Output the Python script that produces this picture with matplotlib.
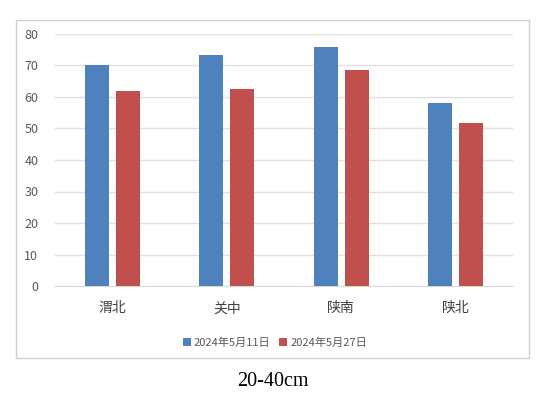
import matplotlib.pyplot as plt
import numpy as np
from matplotlib.patches import Rectangle

plt.rcParams['font.family'] = ['Noto Sans CJK SC', 'DejaVu Sans']

regions = ['渭北', '关中', '陕南', '陕北']
may11 = [70, 73.3, 75.9, 58.1]
may27 = [62, 62.5, 68.6, 51.6]
series_names = ['2024年5月11日', '2024年5月27日']

fig = plt.figure(figsize=(5.48, 3.93), dpi=100)

# outer chart frame
fig.patches.append(Rectangle((16 / 548, 1 - 358 / 393), 513 / 548, 338 / 393,
                             transform=fig.transFigure, fill=False,
                             edgecolor='#d0d0d0', linewidth=1))

ax = fig.add_axes([55 / 548, 1 - 286 / 393, 458 / 548, 252 / 393])

x = np.arange(len(regions))
w = 0.21
ax.bar(x - 0.135, may11, width=w, color='#4f81bd', label=series_names[0], zorder=3)
ax.bar(x + 0.137, may27, width=w, color='#c0504d', label=series_names[1], zorder=3)

ax.set_xlim(-0.5, len(regions) - 0.5)
ax.set_ylim(0, 80)
ax.set_yticks(range(0, 81, 10))
ax.set_xticks(x)
ax.set_xticklabels(regions, fontsize=10, color='#404040')
ax.tick_params(axis='y', labelsize=9, colors='#595959', length=0, pad=12)
ax.tick_params(axis='x', length=0, pad=11)
ax.grid(axis='y', color='#e0e0e0', linewidth=1, zorder=0)
for s in ['left', 'right', 'top']:
    ax.spines[s].set_visible(False)
ax.spines['bottom'].set_color('#d9d9d9')

fig.legend(loc='center', bbox_to_anchor=(275 / 548, 1 - 343 / 393), ncol=2,
           frameon=False, fontsize=8, handlelength=0.7, handleheight=0.7,
           handletextpad=0.3, columnspacing=0.8, labelcolor='#595959')

fig.text(273 / 548, 1 - 381 / 393, '20-40cm', ha='center', va='center',
         fontsize=14.5, family='Liberation Serif')

fig.savefig('out.png', dpi=100)
